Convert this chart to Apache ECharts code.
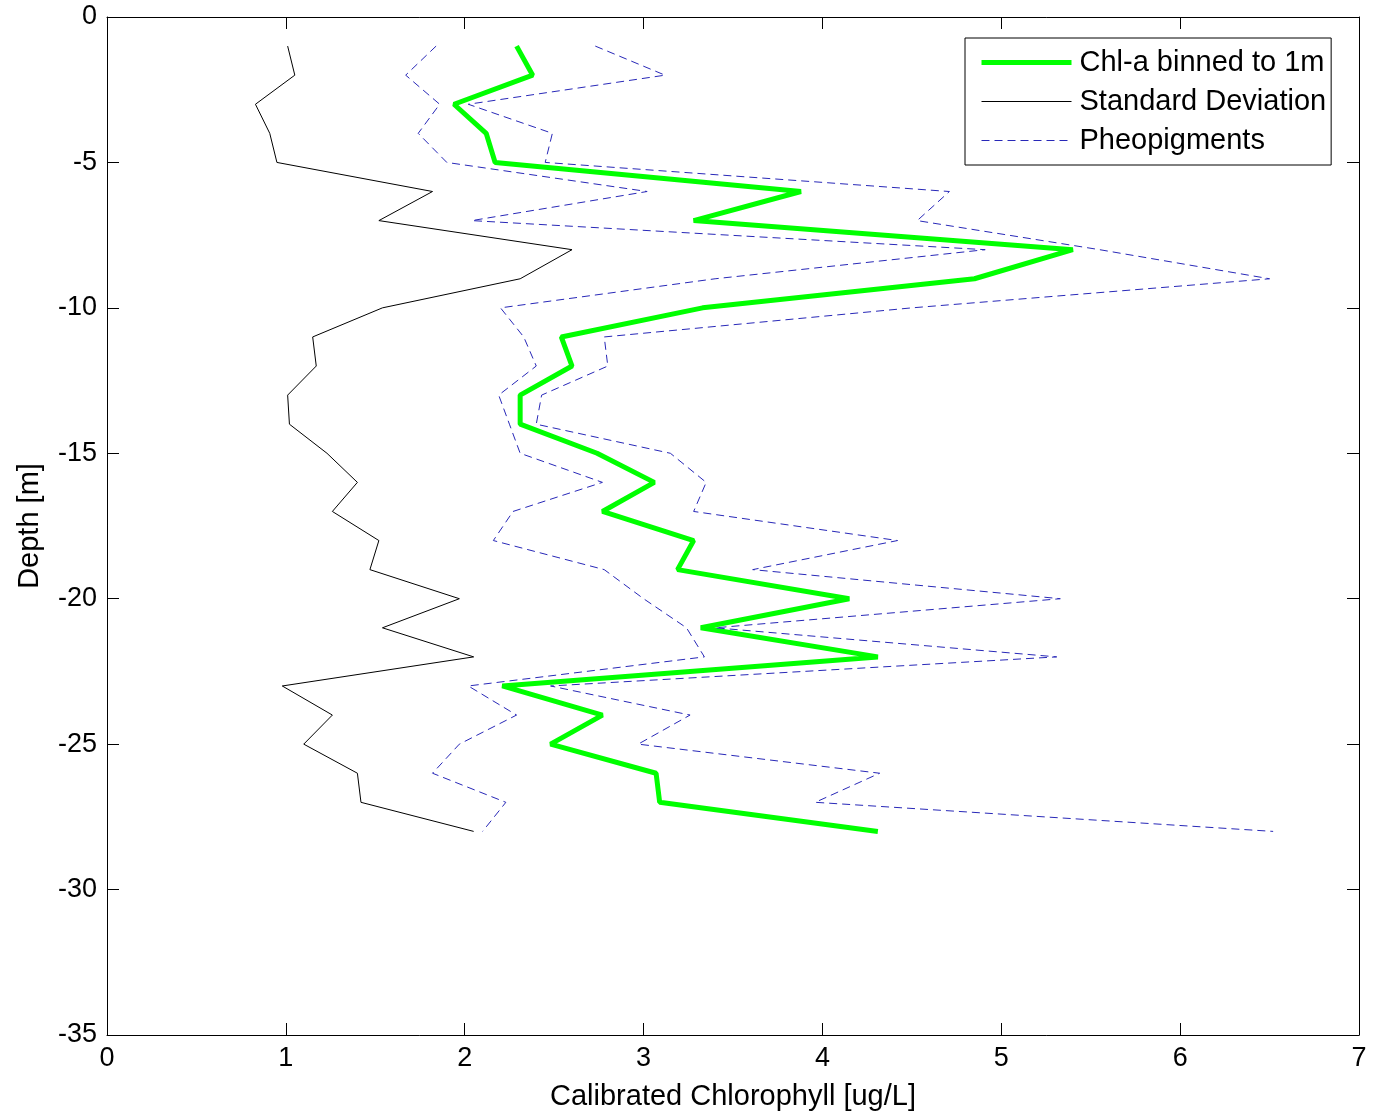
<!DOCTYPE html>
<html>
<head>
<meta charset="utf-8">
<script src="https://cdn.jsdelivr.net/npm/echarts@6/dist/echarts.min.js"></script>
<style>
html,body{margin:0;padding:0;background:#fff;}
#chart{width:1373px;height:1118px;}
</style>
</head>
<body>
<div id="chart"></div>
<script>
const depth = [-1,-2,-3,-4,-5,-6,-7,-8,-9,-10,-11,-12,-13,-14,-15,-16,-17,-18,-19,-20,-21,-22,-23,-24,-25,-26,-27,-28];
const chlA = [2.29,2.38,1.94,2.12,2.17,3.88,3.28,5.40,4.85,3.33,2.54,2.60,2.31,2.31,2.74,3.06,2.77,3.28,3.19,4.15,3.32,4.31,2.21,2.77,2.48,3.07,3.09,4.31];
const stdDev = [1.01,1.05,0.83,0.91,0.95,1.82,1.52,2.60,2.31,1.54,1.15,1.17,1.01,1.02,1.23,1.40,1.26,1.52,1.47,1.97,1.54,2.05,0.98,1.26,1.10,1.40,1.42,2.05];
const pheoLow = [1.84,1.67,1.86,1.74,1.90,3.02,2.04,4.91,3.40,2.20,2.33,2.40,2.19,2.25,2.31,2.77,2.27,2.16,2.78,3.00,3.24,3.34,2.02,2.29,1.97,1.82,2.23,2.10];
const pheoHigh = [2.73,3.12,2.02,2.49,2.45,4.71,4.53,5.55,6.50,4.50,2.78,2.80,2.43,2.40,3.15,3.35,3.28,4.42,3.61,5.33,3.40,5.31,2.48,3.26,2.97,4.32,3.96,6.52];
const seriesNames = ['Chl-a binned to 1m','Standard Deviation','Pheopigments'];
const xTicks = {min:0,max:7,interval:1};
const yTicks = {min:-35,max:0,interval:5};

function pairs(xs){ return xs.map((v,i)=>[v, depth[i]]); }

const FONT = 'Liberation Sans, Arial, sans-serif';
const GREEN = '#00ff00', BLACK = '#000000', BLUE = '#2828b8';
const chart = echarts.init(document.getElementById('chart'), null, {renderer:'canvas'});
const axisCommon = {
  axisLine:{show:true,onZero:false,lineStyle:{color:'#000',width:1}},
  axisTick:{show:true,inside:true,length:12,lineStyle:{color:'#000',width:1}},
  splitLine:{show:false}
};
chart.setOption({
  animation:false,
  backgroundColor:'#fff',
  grid:{left:107,right:14,top:17,bottom:83,containLabel:false},
  legend:{
    orient:'vertical',
    left:965, top:38,
    data:[
      {name:seriesNames[0],lineStyle:{color:GREEN,width:5,type:'solid'}},
      {name:seriesNames[1],lineStyle:{color:BLACK,width:1,type:'solid'}},
      {name:seriesNames[2],lineStyle:{color:BLUE,width:1,type:[8,5]}}
    ],
    backgroundColor:'#fff',
    borderColor:'#000', borderWidth:1,
    padding:[10,5,10,14],
    itemWidth:90, itemHeight:14, itemGap:10,
    itemStyle:{opacity:0},
    textStyle:{fontFamily:FONT,fontSize:29,color:'#000',padding:[0,0,0,3]},
    selectedMode:false
  },
  xAxis:[
    Object.assign({type:'value',position:'bottom',min:xTicks.min,max:xTicks.max,interval:xTicks.interval,
      name:'Calibrated Chlorophyll [ug/L]',nameLocation:'middle',nameGap:47,
      nameTextStyle:{fontFamily:FONT,fontSize:29,color:'#000'},
      axisLabel:{fontFamily:FONT,fontSize:27,color:'#000',margin:10}},axisCommon),
    Object.assign({type:'value',position:'top',min:xTicks.min,max:xTicks.max,interval:xTicks.interval,
      axisLabel:{show:false}},axisCommon)
  ],
  yAxis:[
    Object.assign({type:'value',position:'left',min:yTicks.min,max:yTicks.max,interval:yTicks.interval,
      name:'Depth [m]',nameLocation:'middle',nameGap:63,
      nameTextStyle:{fontFamily:FONT,fontSize:29,color:'#000'},
      axisLabel:{fontFamily:FONT,fontSize:27,color:'#000',margin:10}},axisCommon),
    Object.assign({type:'value',position:'right',min:yTicks.min,max:yTicks.max,interval:yTicks.interval,
      axisLabel:{show:false}},axisCommon)
  ],
  series:[
    {name:seriesNames[0],type:'line',data:pairs(chlA),symbol:'none',
      lineStyle:{color:GREEN,width:5},itemStyle:{color:GREEN},z:3},
    {name:seriesNames[1],type:'line',data:pairs(stdDev),symbol:'none',
      lineStyle:{color:BLACK,width:1},itemStyle:{color:BLACK},z:3},
    {name:seriesNames[2],type:'line',data:pairs(pheoLow),symbol:'none',
      lineStyle:{color:BLUE,width:1,type:[8,5]},itemStyle:{color:BLUE},z:4},
    {name:seriesNames[2],type:'line',data:pairs(pheoHigh),symbol:'none',
      lineStyle:{color:BLUE,width:1,type:[8,5]},itemStyle:{color:BLUE},z:4}
  ]
});
</script>
</body>
</html>
